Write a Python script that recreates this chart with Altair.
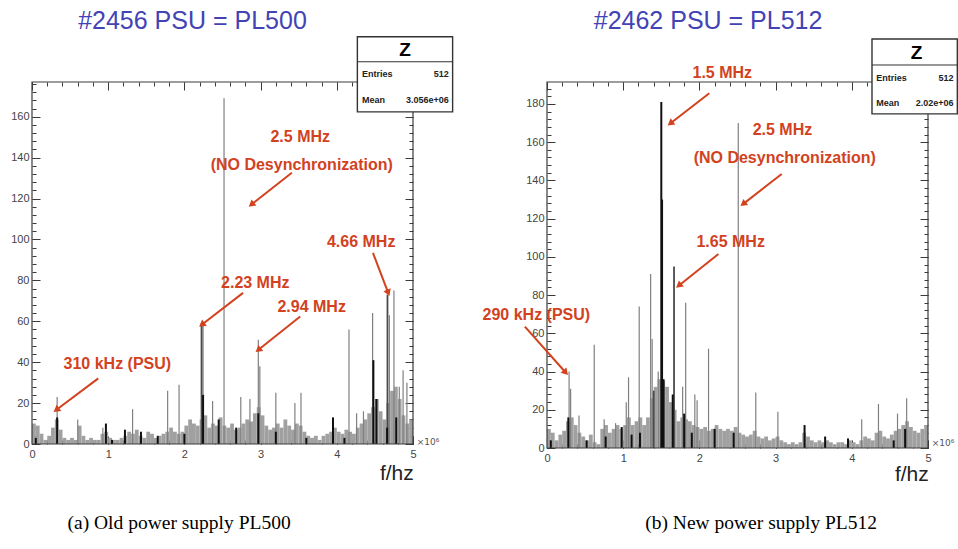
import math
import altair as alt
import pandas as pd

W, H = 958, 549
RED = "#d2421e"
BLUE = "#4343b5"
SANS = "Liberation Sans"

# ---------------- data ----------------
# histogram bins of the noise floor (MHz), 0.05 MHz wide
bin_start = [round(0.05 * i, 2) for i in range(100)]
bin_width = 0.05

# (a) old PSU PL500
noise_a = [10, 9, 5, 2, 4, 8, 12, 7, 3, 2,
           3, 2, 9, 4, 2, 3, 2, 2, 5, 6,
           3, 2, 2, 3, 4, 6, 5, 7, 4, 3,
           6, 5, 3, 4, 5, 6, 8, 6, 5, 6,
           9, 12, 10, 9, 12, 14, 8, 10, 9, 13,
           9, 8, 10, 7, 8, 10, 12, 11, 15, 18,
           14, 9, 7, 8, 10, 8, 12, 9, 7, 10,
           9, 6, 4, 3, 4, 2, 4, 5, 6, 8,
           6, 5, 7, 6, 5, 8, 10, 12, 15, 18,
           22, 16, 12, 20, 26, 28, 22, 14, 10, 12]
light_a_f = [0.33, 0.6, 0.93, 1.32, 1.78, 1.93, 2.245, 2.37, 2.52, 2.74, 2.86,
             2.97, 2.99, 3.2, 3.45, 3.53, 4.16, 4.26, 4.35, 4.47, 4.69, 4.75,
             4.82, 4.87, 4.92]
light_a_h = [23, 12, 8, 17, 26, 29, 58, 21, 169, 23, 22,
             51, 38, 25, 20, 25, 56, 15, 16, 64, 63, 75,
             28, 36, 30]
mid_a_f = [2.225, 4.665]
mid_a_h = [59, 73]
dark_a_f = [0.05, 0.33, 0.97, 1.05, 1.22, 1.43, 1.65, 2.0, 2.245, 2.45, 2.68,
            2.97, 3.2, 3.6, 3.95, 4.1, 4.48, 4.52, 4.66, 4.78]
dark_a_h = [3, 13, 10, 2, 7, 6, 4, 5, 24, 12, 8,
            15, 6, 3, 13, 3, 41, 22, 8, 13]

ann_a_text = ["2.5 MHz", "(NO Desynchronization)", "4.66 MHz", "2.23 MHz",
              "2.94 MHz", "310 kHz (PSU)"]
ann_a_f = [3.52, 3.54, 4.32, 2.93, 3.67, 1.12]
ann_a_h = [150.2, 136.5, 98.8, 78.9, 67.2, 39.0]
arr_a_f1 = [3.41, 4.475, 2.77, 3.52, 0.87]
arr_a_h1 = [132.6, 93.4, 73.9, 62.3, 32.1]
arr_a_f2 = [2.89, 4.67, 2.24, 2.98, 0.33]
arr_a_h2 = [117.4, 74.4, 58.7, 46.3, 17.0]

# (b) new PSU PL512
noise_b = [10, 8, 4, 7, 9, 14, 16, 12, 8, 6,
           4, 7, 3, 2, 10, 12, 8, 10, 12, 10,
           12, 16, 12, 14, 16, 12, 16, 26, 32, 36,
           35, 32, 24, 20, 14, 16, 15, 14, 12, 11,
           10, 11, 9, 10, 12, 10, 9, 10, 9, 11,
           8, 7, 6, 7, 9, 6, 5, 6, 4, 5,
           6, 4, 3, 2, 3, 2, 3, 8, 6, 4,
           3, 4, 3, 4, 3, 2, 3, 3, 2, 4,
           3, 2, 4, 6, 5, 4, 8, 9, 6, 5,
           7, 9, 10, 12, 14, 11, 9, 8, 10, 12]
light_b_f = [0.29, 0.31, 0.42, 0.62, 0.75, 0.9, 1.04, 1.07, 1.21, 1.36, 1.38, 1.46,
             1.78, 1.82, 1.94, 1.97, 2.12, 2.51, 2.74, 3.03, 4.13, 4.35, 4.6, 4.72]
light_b_h = [40, 31, 17, 54, 15, 13, 24, 37, 74, 91, 57, 40,
             32, 76, 28, 25, 52, 170, 29, 19, 15, 23, 18, 26]
mid_b_f = [1.667, 1.4]
mid_b_h = [95, 30]
dark_b_f = [0.05, 0.28, 0.52, 0.77, 0.98, 1.11, 1.22, 1.5, 1.51, 1.53, 1.65,
            1.8, 1.9, 2.2, 2.45, 3.38, 3.65, 3.95, 4.55, 4.7]
dark_b_h = [4, 16, 4, 6, 11, 7, 8, 181, 130, 36, 28,
            18, 8, 10, 8, 12, 6, 5, 4, 10]

ann_b_text = ["1.5 MHz", "2.5 MHz", "(NO Desynchronization)", "1.65 MHz", "290 kHz (PSU)"]
ann_b_f = [2.30, 3.09, 3.12, 2.41, -0.14]
ann_b_h = [196.0, 166.4, 151.6, 107.6, 69.6]
arr_b_f1 = [2.13, 3.08, 2.25, -0.29]
arr_b_h1 = [185.6, 143.4, 101.5, 63.5]
arr_b_f2 = [1.63, 2.585, 1.74, 0.236]
arr_b_h2 = [170.2, 128.0, 85.3, 39.9]

# stats boxes / titles / captions
stat_labels = ["Entries", "Mean"]
stat_a_values = ["512", "3.056e+06"]
stat_b_values = ["512", "2.02e+06"]
title_a = "#2456 PSU = PL500"
title_b = "#2462 PSU = PL512"
caption_a = "(a) Old power supply PL500"
caption_b = "(b) New power supply PL512"

# ---------------- layout (pixels / data-space anchors) ----------------
GEOM_A = dict(xl=32, xr=413, yb=444, yt=82, ymax=177.0, ystep=20,
              box=(4.27, 5.52, 162.4, 199.1, 186.9), zpos=(4.895, 192.8),
              srow=(181.0, 168.3), sx=(4.33, 5.47),
              tpos=(2.106, 206.9), fpos=(5.01, -14.7), epos=(5.05, 1.1),
              cpos=(1.93, -38.6))
GEOM_B = dict(xl=547, xr=928, yb=448, yt=82, ymax=191.5, ystep=20,
              box=(4.265, 5.385, 174.8, 214.0, 200.4), zpos=(4.85, 206.7),
              srow=(193.4, 180.7), sx=(4.32, 5.335),
              tpos=(2.114, 223.4), fpos=(5.01, -14.1), epos=(5.05, 2.5),
              cpos=(2.81, -39.2))


def axis(orient, values, size, offset, labels=False, pad=3):
    kw = dict(orient=orient, values=values, tickSize=size, offset=offset,
              labels=labels, domain=False, grid=False, title=None,
              tickColor="#3a3a3a", tickWidth=1)
    if labels:
        kw.update(labelFont=SANS, labelFontSize=11, labelColor="#444",
                  labelPadding=pad, labelFlush=False, labelOverlap=False, format="d")
    return alt.Axis(**kw)


def panel(g, noise, lf, lh, mf, mh, df_, dh, at, af, ah, f1, h1, f2, h2,
          svals, title, caption):
    xs = alt.Scale(domain=[0, 5], range=[g["xl"], g["xr"]], nice=False, zero=False)
    ys = alt.Scale(domain=[0, g["ymax"]], range=[g["yb"], g["yt"]], nice=False, zero=False)
    xmaj = [0, 1, 2, 3, 4, 5]
    xmin = [round(0.2 * i, 1) for i in range(26)]
    ymaj = list(range(0, int(g["ymax"]) + 1, g["ystep"]))
    ymin = list(range(0, int(g["ymax"]) + 1, 4))

    ax_bM = axis("bottom", xmaj, 8, (g["yb"] - 8) - H, labels=True, pad=4)
    ax_bm = axis("bottom", xmin, 4, (g["yb"] - 4) - H)
    ax_tM = axis("top", xmaj, 8, -(g["yt"] + 8))
    ax_tm = axis("top", xmin, 4, -(g["yt"] + 4))
    ax_lM = axis("left", ymaj, 8, -(g["xl"] + 8), labels=True, pad=3)
    ax_lm = axis("left", ymin, 4, -(g["xl"] + 4))
    ax_rM = axis("right", ymaj, 8, (g["xr"] - 8) - W)
    ax_rm = axis("right", ymin, 4, (g["xr"] - 4) - W)

    def X(field, ax=None):
        return alt.X(field, type="quantitative", scale=xs, axis=ax)

    def Y(field, ax=None):
        return alt.Y(field, type="quantitative", scale=ys, axis=ax)

    layers = []
    noise_df = pd.DataFrame({"f0": bin_start,
                             "f1": [b + bin_width for b in bin_start],
                             "h": noise})
    layers.append(alt.Chart(noise_df).mark_rect(color="#a0a0a0").encode(
        x=X("f0", ax_bM), x2="f1:Q", y=Y("h", ax_lM), y2=alt.Y2(datum=0)))

    layers.append(alt.Chart(pd.DataFrame({"f": lf, "h": lh})).mark_rule(
        color="#808080", strokeWidth=1.2).encode(
        x=X("f", ax_bm), y=Y("h", ax_lm), y2=alt.Y2(datum=0)))
    layers.append(alt.Chart(pd.DataFrame({"f": mf, "h": mh})).mark_rule(
        color="#4a4a4a", strokeWidth=1.8).encode(
        x=X("f"), y=Y("h"), y2=alt.Y2(datum=0)))
    layers.append(alt.Chart(pd.DataFrame({"f": df_, "h": dh})).mark_rule(
        color="#101010", strokeWidth=2).encode(
        x=X("f", ax_tM), y=Y("h", ax_rM), y2=alt.Y2(datum=0)))

    # frame
    layers.append(alt.Chart(pd.DataFrame({"k": [0]})).mark_rect(
        fillOpacity=0, stroke="#3c3c3c", strokeWidth=1.2).encode(
        x=alt.X(datum=0, type="quantitative", scale=xs, axis=ax_tm),
        x2=alt.X2(datum=5),
        y=alt.Y(datum=0, type="quantitative", scale=ys, axis=ax_rm),
        y2=alt.Y2(datum=g["ymax"])))

    # arrows
    sx = (g["xr"] - g["xl"]) / 5.0
    sy = (g["yb"] - g["yt"]) / g["ymax"]
    ang = []
    for a1, b1, a2, b2 in zip(f1, h1, f2, h2):
        dx = (a2 - a1) * sx
        dy = -(b2 - b1) * sy
        ang.append(math.degrees(math.atan2(dx, -dy)) % 360)
    arr_df = pd.DataFrame({"f1": f1, "h1": h1, "f2": f2, "h2": h2, "ang": ang})
    layers.append(alt.Chart(arr_df).mark_rule(color=RED, strokeWidth=2).encode(
        x=X("f1"), y=Y("h1"), x2="f2:Q", y2="h2:Q"))
    layers.append(alt.Chart(arr_df).mark_point(
        shape="triangle", filled=True, size=60, color=RED, opacity=1).encode(
        x=X("f2"), y=Y("h2"), angle=alt.Angle("ang:Q", scale=None)))

    # annotation text
    layers.append(alt.Chart(pd.DataFrame({"t": at, "f": af, "h": ah})).mark_text(
        font=SANS, fontSize=16, fontWeight="bold", color=RED,
        align="center", baseline="middle").encode(x=X("f"), y=Y("h"), text="t:N"))

    # stats box
    bx = g["box"]
    layers.append(alt.Chart(pd.DataFrame({"a": [bx[0]], "b": [bx[1]], "c": [bx[2]], "d": [bx[3]]}))
                  .mark_rect(fill="white", stroke="#333", strokeWidth=1.4).encode(
        x=X("a"), x2="b:Q", y=Y("c"), y2="d:Q"))
    layers.append(alt.Chart(pd.DataFrame({"a": [bx[0]], "b": [bx[1]], "c": [bx[4]]}))
                  .mark_rule(color="#333", strokeWidth=1).encode(
        x=X("a"), x2="b:Q", y=Y("c")))
    layers.append(alt.Chart(pd.DataFrame({"t": ["Z"], "f": [g["zpos"][0]], "h": [g["zpos"][1]]}))
                  .mark_text(font=SANS, fontSize=19, fontWeight="bold", color="black",
                             align="center", baseline="middle").encode(
        x=X("f"), y=Y("h"), text="t:N"))
    layers.append(alt.Chart(pd.DataFrame({"t": stat_labels, "f": [g["sx"][0]] * 2, "h": list(g["srow"])}))
                  .mark_text(font=SANS, fontSize=9, fontWeight="bold", color="#222",
                             align="left", baseline="middle").encode(
        x=X("f"), y=Y("h"), text="t:N"))
    layers.append(alt.Chart(pd.DataFrame({"t": svals, "f": [g["sx"][1]] * 2, "h": list(g["srow"])}))
                  .mark_text(font=SANS, fontSize=9, fontWeight="bold", color="#222",
                             align="right", baseline="middle").encode(
        x=X("f"), y=Y("h"), text="t:N"))

    # title, axis title, exponent, caption
    layers.append(alt.Chart(pd.DataFrame({"t": [title], "f": [g["tpos"][0]], "h": [g["tpos"][1]]}))
                  .mark_text(font=SANS, fontSize=25, color=BLUE, align="center",
                             baseline="middle").encode(x=X("f"), y=Y("h"), text="t:N"))
    layers.append(alt.Chart(pd.DataFrame({"t": ["f/hz"], "f": [g["fpos"][0]], "h": [g["fpos"][1]]}))
                  .mark_text(font=SANS, fontSize=21, color="#222", align="right",
                             baseline="middle").encode(x=X("f"), y=Y("h"), text="t:N"))
    layers.append(alt.Chart(pd.DataFrame({"t": ["\u00d710\u2076"], "f": [g["epos"][0]], "h": [g["epos"][1]]}))
                  .mark_text(font="DejaVu Sans", fontSize=9, color="#555", align="left",
                             baseline="middle").encode(x=X("f"), y=Y("h"), text="t:N"))
    layers.append(alt.Chart(pd.DataFrame({"t": [caption], "f": [g["cpos"][0]], "h": [g["cpos"][1]]}))
                  .mark_text(font="Liberation Serif", fontSize=19.5, color="black",
                             align="center", baseline="middle").encode(
        x=X("f"), y=Y("h"), text="t:N"))
    return layers


left = panel(GEOM_A, noise_a, light_a_f, light_a_h, mid_a_f, mid_a_h, dark_a_f, dark_a_h,
             ann_a_text, ann_a_f, ann_a_h, arr_a_f1, arr_a_h1, arr_a_f2, arr_a_h2,
             stat_a_values, title_a, caption_a)
right = panel(GEOM_B, noise_b, light_b_f, light_b_h, mid_b_f, mid_b_h, dark_b_f, dark_b_h,
              ann_b_text, ann_b_f, ann_b_h, arr_b_f1, arr_b_h1, arr_b_f2, arr_b_h2,
              stat_b_values, title_b, caption_b)

chart = alt.layer(*left, *right).resolve_scale(
    x="independent", y="independent"
).properties(
    width=W, height=H, padding=0, background="white",
    autosize=alt.AutoSizeParams(type="none"),
).configure_view(stroke="transparent")

chart.save("out.html", embed_options={"renderer": "svg", "actions": False})
